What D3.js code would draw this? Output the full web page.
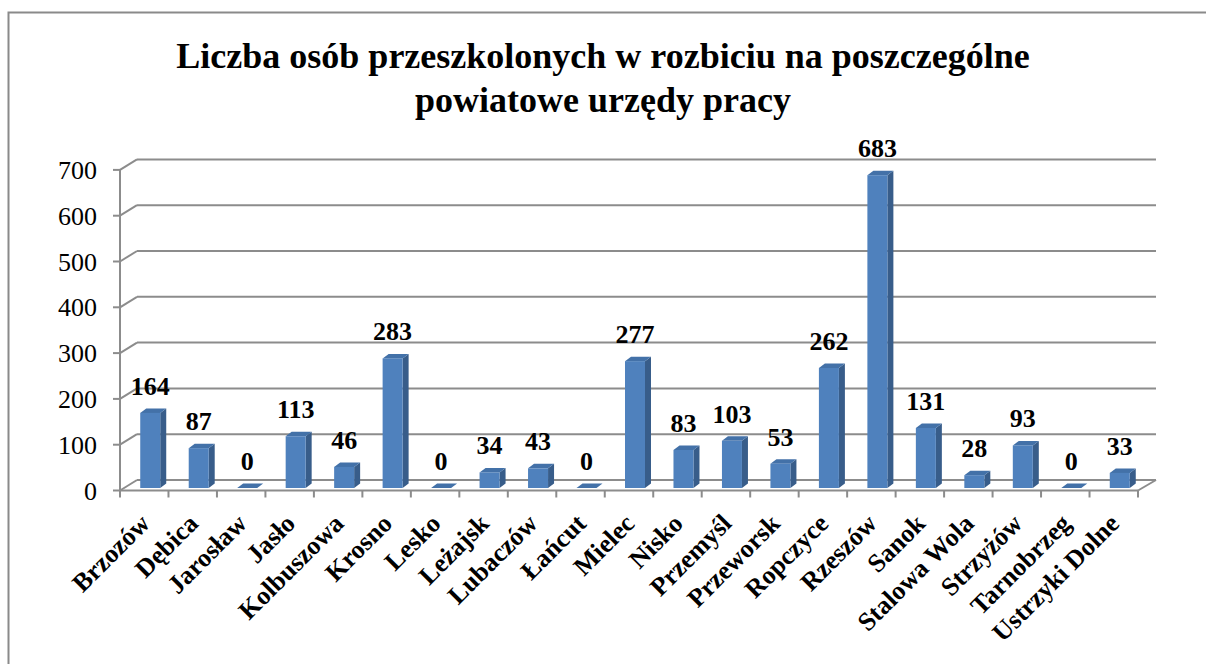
<!DOCTYPE html>
<html>
<head>
<meta charset="utf-8">
<script src="https://cdn.jsdelivr.net/npm/d3@7"></script>
<style>
  html, body { margin: 0; padding: 0; background: #fff; }
  svg { display: block; font-family: "Liberation Serif", "Times New Roman", serif; }
</style>
</head>
<body>
<svg id="chart" width="1206" height="664"></svg>
<script>
const categories = ["Brzozów","Dębica","Jarosław","Jasło","Kolbuszowa","Krosno","Lesko","Leżajsk","Lubaczów","Łańcut","Mielec","Nisko","Przemyśl","Przeworsk","Ropczyce","Rzeszów","Sanok","Stalowa Wola","Strzyżów","Tarnobrzeg","Ustrzyki Dolne"];
const values = [164,87,0,113,46,283,0,34,43,0,277,83,103,53,262,683,131,28,93,0,33];
const yTicks = [0,100,200,300,400,500,600,700];
const titleLines = ["Liczba osób przeszkolonych w rozbiciu na poszczególne", "powiatowe urzędy pracy"];

const svg = d3.select("#chart");
const gridColor = "#8c8c8c";

// frame
svg.append("rect").attr("x", 8.5).attr("y", 12.5).attr("width", 1300).attr("height", 800)
  .attr("fill", "none").attr("stroke", "#8a8a8a").attr("stroke-width", 2);

// title
svg.append("g").selectAll("text").data(titleLines).join("text")
  .attr("x", 603).attr("y", (d, i) => 67.5 + i * 44)
  .attr("text-anchor", "middle").attr("font-weight", "bold").attr("font-size", 36)
  .attr("fill", "#000").text(d => d);

// geometry
const x0 = 120, x1 = 1138, yFront0 = 490.5;
const wallDx = 17, wallDy = -10.5;
const x = d3.scaleBand().domain(categories).range([x0, x1]).padding(0);
const y = d3.scaleLinear().domain([0, 700]).range([yFront0, yFront0 - 700 * 0.458]);

const g = svg.append("g");

// back wall gridlines
g.selectAll("line.grid").data(yTicks).join("line").attr("class", "grid")
  .attr("x1", x0 + wallDx).attr("x2", x1 + wallDx + 1)
  .attr("y1", d => y(d) + wallDy).attr("y2", d => y(d) + wallDy)
  .attr("stroke", gridColor).attr("stroke-width", 2);
// side wall diagonals
g.selectAll("line.diag").data(yTicks).join("line").attr("class", "diag")
  .attr("x1", x0).attr("x2", x0 + wallDx)
  .attr("y1", d => y(d)).attr("y2", d => y(d) + wallDy)
  .attr("stroke", gridColor).attr("stroke-width", 2);
// floor front edge and right edge
g.append("line").attr("x1", x0).attr("x2", x1).attr("y1", yFront0).attr("y2", yFront0)
  .attr("stroke", gridColor).attr("stroke-width", 2);
g.append("line").attr("x1", x1).attr("x2", x1 + wallDx + 1).attr("y1", yFront0).attr("y2", yFront0 + wallDy)
  .attr("stroke", gridColor).attr("stroke-width", 2);
// vertical axis line
g.append("line").attr("x1", x0).attr("x2", x0).attr("y1", y(700)).attr("y2", yFront0)
  .attr("stroke", gridColor).attr("stroke-width", 2);
// y ticks
g.selectAll("line.ytick").data(yTicks).join("line").attr("class", "ytick")
  .attr("x1", x0 - 7).attr("x2", x0).attr("y1", d => y(d)).attr("y2", d => y(d))
  .attr("stroke", gridColor).attr("stroke-width", 2);
// x ticks
const xTickPos = categories.map(c => x(c)).concat([x1]);
g.selectAll("line.xtick").data(xTickPos).join("line").attr("class", "xtick")
  .attr("x1", d => d).attr("x2", d => d).attr("y1", yFront0).attr("y2", yFront0 + 7)
  .attr("stroke", gridColor).attr("stroke-width", 2);

// y tick labels
g.selectAll("text.ylab").data(yTicks).join("text").attr("class", "ylab")
  .attr("x", 97).attr("y", d => y(d)).attr("dy", "0.35em")
  .attr("text-anchor", "end").attr("font-size", 26).attr("fill", "#000").text(d => d);

// bars
const bw = 20, bdx = 6, bdy = -4.5, offX = 6, offY = -2.5;
const bars = g.append("g").selectAll("g").data(categories.map((c, i) => ({c, v: values[i]}))).join("g");
bars.each(function(d) {
  const el = d3.select(this);
  const cx = x(d.c) + x.bandwidth() / 2 + offX;
  const l = cx - bw / 2, r = cx + bw / 2;
  const yb = y(0) + offY, yt = y(d.v) + offY;
  // side
  el.append("polygon").attr("points", [[r, yt], [r + bdx, yt + bdy], [r + bdx, yb + bdy], [r, yb]].map(p => p.join(",")).join(" "))
    .attr("fill", "#385d8a");
  // top
  el.append("polygon").attr("points", [[l, yt], [l + bdx, yt + bdy], [r + bdx, yt + bdy], [r, yt]].map(p => p.join(",")).join(" "))
    .attr("fill", "#4371a8");
  // front
  if (yb - yt > 0) {
    el.append("rect").attr("x", l).attr("y", yt).attr("width", bw).attr("height", yb - yt).attr("fill", "#4f81bd");
  }
  // label
  el.append("text").attr("x", cx).attr("y", yt - 18).attr("text-anchor", "middle")
    .attr("font-weight", "bold").attr("font-size", 26).attr("fill", "#000").text(d.v);
});

// x labels
g.selectAll("text.xlab").data(categories).join("text").attr("class", "xlab")
  .attr("transform", d => `translate(${x(d) + x.bandwidth() / 2 + 7},${525}) rotate(-45)`)
  .attr("text-anchor", "end").attr("font-weight", "bold").attr("font-size", 26)
  .attr("fill", "#000").text(d => d);
</script>
</body>
</html>
